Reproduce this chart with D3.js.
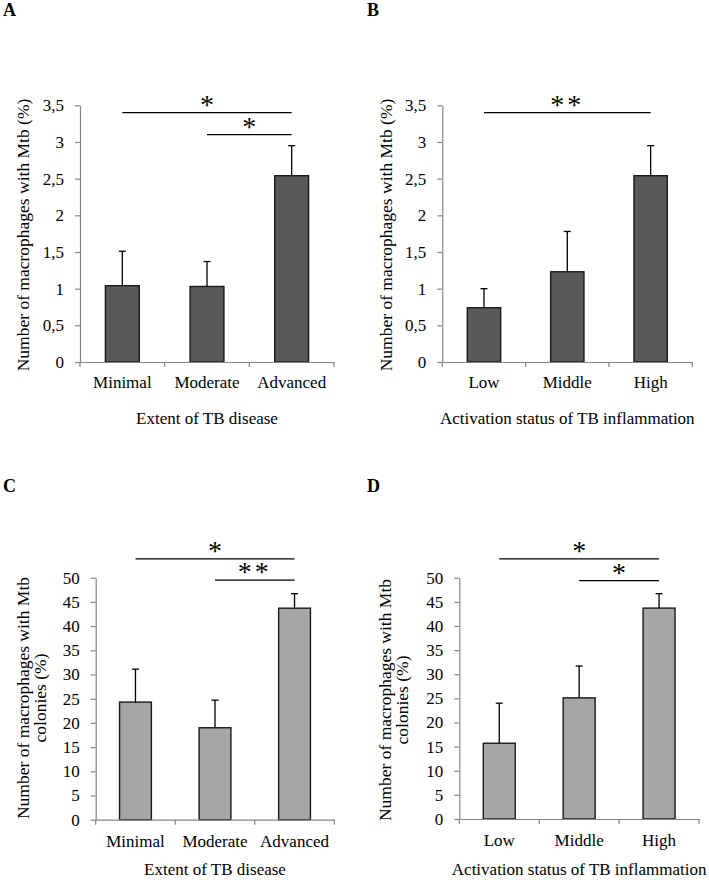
<!DOCTYPE html>
<html>
<head>
<meta charset="utf-8">
<script src="https://cdn.jsdelivr.net/npm/d3@7"></script>
<style>
  html, body { margin: 0; padding: 0; background: #fff; }
  svg { display: block; }
  text { font-family: "Liberation Serif", "Times New Roman", serif; fill: #000; }
</style>
</head>
<body>
<svg id="chart" width="709" height="880"></svg>
<script>
// ---------- data ----------
const catsExtent = ["Minimal", "Moderate", "Advanced"];
const catsActivation = ["Low", "Middle", "High"];

const mtbExtentMean = [1.04, 1.03, 2.54];
const mtbExtentErr  = [0.47, 0.34, 0.41];
const mtbActivMean  = [0.74, 1.23, 2.54];
const mtbActivErr   = [0.26, 0.55, 0.41];

const colExtentMean = [24.3, 19.0, 43.7];
const colExtentErr  = [6.8, 5.7, 3.0];
const colActivMean  = [15.7, 25.1, 43.7];
const colActivErr   = [8.3, 6.6, 3.0];

const yTicksMtb = [0, 0.5, 1, 1.5, 2, 2.5, 3, 3.5];
const yTicksCol = [0, 5, 10, 15, 20, 25, 30, 35, 40, 45, 50];

// significance brackets: [fromCategory, toCategory, level (data units), label]
const sigA = [["Minimal", "Advanced", 3.40, "*"], ["Moderate", "Advanced", 3.10, "*"]];
const sigB = [["Low", "High", 3.40, "**"]];
const sigC = [["Minimal", "Advanced", 53.9, "*"], ["Moderate", "Advanced", 49.5, "**"]];
const sigD = [["Low", "High", 53.9, "*"], ["Middle", "High", 49.4, "*"]];

const panelLetters = ["A", "B", "C", "D"];
const xTitles = ["Extent of TB disease", "Activation status of TB inflammation"];
const yTitleMtb = ["Number of macrophages with Mtb (%)"];
const yTitleCol = ["Number of macrophages with Mtb", "colonies (%)"];

// ---------- layout ----------
const svg = d3.select("#chart");
const FS = 17;
const axisColor = "#868686";

const panels = [
  { letter: panelLetters[0], lx: 3, ly: 16, cats: catsExtent, mean: mtbExtentMean, err: mtbExtentErr,
    xr: [80, 334], yr: [362, 105.3], dom: [0, 3.5], ticks: yTicksMtb, fill: "#595959",
    sig: sigA, xTitle: xTitles[0], xTitleY: 424, yTitle: yTitleMtb, yTitleX: 28.5, yTitleY: 235, tickPad: 14 },
  { letter: panelLetters[1], lx: 367, ly: 16, cats: catsActivation, mean: mtbActivMean, err: mtbActivErr,
    xr: [442.3, 692.3], yr: [362, 105.3], dom: [0, 3.5], ticks: yTicksMtb, fill: "#595959",
    sig: sigB, xTitle: xTitles[1], xTitleY: 424, yTitle: yTitleMtb, yTitleX: 391.5, yTitleY: 235, tickPad: 14 },
  { letter: panelLetters[2], lx: 3, ly: 492, cats: catsExtent, mean: colExtentMean, err: colExtentErr,
    xr: [95.7, 334.3], yr: [819.7, 577.7], dom: [0, 50], ticks: yTicksCol, fill: "#a6a6a6",
    sig: sigC, xTitle: xTitles[0], xTitleY: 875, yTitle: yTitleCol, yTitleX: 28.5, yTitleY: 698, tickPad: 15 },
  { letter: panelLetters[3], lx: 367, ly: 492, cats: catsActivation, mean: colActivMean, err: colActivErr,
    xr: [459.3, 699], yr: [819, 577.7], dom: [0, 50], ticks: yTicksCol, fill: "#a6a6a6",
    sig: sigD, xTitle: xTitles[1], xTitleY: 875, yTitle: yTitleCol, yTitleX: 391, yTitleY: 700, tickPad: 15 }
];

panels.forEach(p => {
  const g = svg.append("g");
  const x = d3.scaleBand().domain(p.cats).range(p.xr).padding(0);
  const y = d3.scaleLinear().domain(p.dom).range(p.yr);
  const bw = x.bandwidth() * 0.4;
  const cx = c => x(c) + x.bandwidth() / 2;

  // panel letter
  g.append("text").attr("x", p.lx).attr("y", p.ly)
    .attr("font-size", 18).attr("font-weight", "bold").text(p.letter);

  // y axis
  const ya = g.append("g").attr("transform", `translate(${p.xr[0]},0)`)
    .call(d3.axisLeft(y).tickValues(p.ticks).tickSize(5).tickPadding(11).tickSizeOuter(0)
      .tickFormat(d => String(d).replace(".", ",")));
  ya.select(".domain").attr("stroke", axisColor).attr("stroke-width", 1.2);
  ya.selectAll(".tick line").attr("stroke", axisColor).attr("stroke-width", 1.2);
  ya.selectAll(".tick text").attr("font-size", FS).attr("font-family", "Liberation Serif").attr("fill", "#000");

  // bars
  g.selectAll("rect.bar").data(p.cats).join("rect")
    .attr("x", c => cx(c) - bw / 2)
    .attr("width", bw)
    .attr("y", (c, i) => y(p.mean[i]))
    .attr("height", (c, i) => y(0) - y(p.mean[i]))
    .attr("fill", p.fill).attr("stroke", "#1a1a1a").attr("stroke-width", 1.4);

  // error bars (upper only)
  g.selectAll("line.err").data(p.cats).join("line")
    .attr("x1", c => cx(c)).attr("x2", c => cx(c))
    .attr("y1", (c, i) => y(p.mean[i]))
    .attr("y2", (c, i) => y(p.mean[i] + p.err[i]))
    .attr("stroke", "#000").attr("stroke-width", 1.3);
  g.selectAll("line.cap").data(p.cats).join("line")
    .attr("x1", c => cx(c) - 3.5).attr("x2", c => cx(c) + 3.5)
    .attr("y1", (c, i) => y(p.mean[i] + p.err[i]))
    .attr("y2", (c, i) => y(p.mean[i] + p.err[i]))
    .attr("stroke", "#000").attr("stroke-width", 1.3);

  // x axis
  const xa = g.append("g").attr("transform", `translate(0,${y(0)})`)
    .call(d3.axisBottom(x).tickSize(0).tickPadding(p.tickPad).tickSizeOuter(0));
  xa.select(".domain").attr("stroke", axisColor).attr("stroke-width", 1.2);
  xa.selectAll(".tick text").attr("font-size", FS).attr("font-family", "Liberation Serif").attr("fill", "#000");
  const bounds = p.cats.map(c => x(c)).concat([p.xr[1]]);
  g.selectAll("line.xt").data(bounds).join("line")
    .attr("x1", d => d).attr("x2", d => d)
    .attr("y1", y(0)).attr("y2", y(0) + 5)
    .attr("stroke", axisColor).attr("stroke-width", 1.2);

  // significance brackets
  p.sig.forEach(s => {
    const x1 = cx(s[0]), x2 = cx(s[1]), ly = y(s[2]);
    g.append("line").attr("x1", x1).attr("x2", x2).attr("y1", ly).attr("y2", ly)
      .attr("stroke", "#000").attr("stroke-width", 1.3);
    g.append("text").attr("x", (x1 + x2) / 2).attr("y", ly + 1)
      .attr("text-anchor", "middle").attr("font-size", 28)
      .attr("letter-spacing", s[3].length > 1 ? 3 : 0)
      .text(s[3]);
  });

  // x title
  g.append("text").attr("x", (p.xr[0] + p.xr[1]) / 2).attr("y", p.xTitleY)
    .attr("text-anchor", "middle").attr("font-size", FS).text(p.xTitle);

  // y title
  p.yTitle.forEach((t, i) => {
    g.append("text")
      .attr("transform", `translate(${p.yTitleX + i * 17},${p.yTitleY}) rotate(-90)`)
      .attr("text-anchor", "middle").attr("font-size", 17.5).text(t);
  });
});
</script>
</body>
</html>
